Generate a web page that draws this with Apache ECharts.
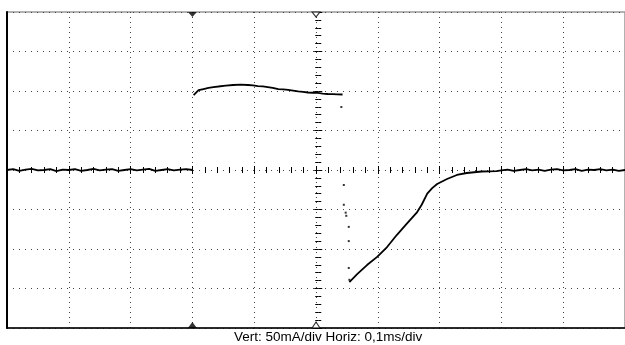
<!DOCTYPE html>
<html><head><meta charset="utf-8">
<script src="https://cdn.jsdelivr.net/npm/echarts@6/dist/echarts.min.js"></script>
<style>html,body{margin:0;padding:0;background:#fff}#c{width:625px;height:345px}</style>
</head><body><div id="c"></div>
<script>
// time in ms (0.1 ms/div), current in mA (50 mA/div)
const baseT = [0,0.01,0.02,0.03,0.04,0.05,0.06,0.07,0.08,0.09,0.10,0.11,0.12,0.13,0.14,0.15,0.16,0.17,0.18,0.19,0.20,0.21,0.22,0.23,0.24,0.25,0.26,0.27,0.28,0.29,0.30];
const baseI = [0,1,-1,0.5,1.5,-0.5,0,1,-1.5,0.5,0,1,-1,0,1.5,-0.5,0.5,1,-1,0,1,-0.5,0.5,1.5,-1,0,1,-0.5,0.5,1,0];
const pulseT = [0.302,0.310,0.318,0.326,0.334,0.342,0.354,0.366,0.378,0.390,0.398,0.406,0.414,0.422,0.430,0.439,0.447,0.455,0.463,0.471,0.479,0.487,0.495,0.503,0.511,0.519,0.527,0.535,0.543];
const pulseI = [94.9,101,102.5,104,105,105.7,106.8,107.6,108,107.6,107,106.3,105.8,105,104,102.5,102,101.3,100.5,99.4,99,98.1,97.8,97.5,96.8,96.2,96,95.8,95.6];
const edgeT = [0.541,0.545,0.545,0.548,0.549,0.553,0.553,0.553,0.554];
const edgeI = [79.7,-19,-44,-54,-58,-72,-90,-124,-139];
const recovT = [0.554,0.567,0.583,0.599,0.615,0.631,0.647,0.663,0.671,0.680,0.688,0.696,0.712,0.728,0.744,0.768,0.792,0.80,0.81,0.82,0.83,0.84,0.85,0.86,0.87,0.88,0.89,0.90,0.91,0.92,0.93,0.94,0.95,0.96,0.97,0.98,0.99,1.00];
const recovI = [-141.8,-131.6,-120,-110,-97.5,-82,-68,-54,-44,-30,-23,-17.7,-11.4,-6.3,-3.8,-1.9,-1.3,-0.5,0.5,-1,0,1,-0.5,0.5,-1,0.5,1,-0.5,0,1,-1,0.5,0,1,-0.5,0.5,-1,0];
const triggerT = 0.3, centerT = 0.5;
const yTicks = [-200,-150,-100,-50,0,50,100,150,200];
const caption = 'Vert: 50mA/div Horiz: 0,1ms/div';

const zip = (a,b) => a.map((v,i)=>[v,b[i]]);
const chart = echarts.init(document.getElementById('c'), null, {renderer:'canvas'});
const gridBox = {left:7, top:12, width:622.5, height:316};
const hideAxis = {axisLabel:{show:false}, splitLine:{show:false}};
const centerX = (inside) => Object.assign({type:'value', min:0, max:1, interval:0.1, position:'bottom', offset:-158,
  axisLine:{show:false, onZero:false}, axisTick:{show:true, inside:inside, length:4, lineStyle:{color:'#000'}},
  minorTick:{show:true, splitNumber:5, length:3, lineStyle:{color:'#000'}}}, hideAxis);
const centerY = (inside) => Object.assign({type:'value', min:yTicks[0], max:yTicks[yTicks.length-1], interval:50, position:'left', offset:-311.25,
  axisLine:{show:false, onZero:false}, axisTick:{show:true, inside:inside, length:4, lineStyle:{color:'#000'}},
  minorTick:{show:true, splitNumber:5, length:3, lineStyle:{color:'#000'}}}, hideAxis);
chart.setOption({
  animation:false,
  grid: Object.assign({show:true, borderColor:'#999', borderWidth:1.5}, gridBox),
  xAxis:[
    {type:'value', min:0, max:1, interval:0.1, position:'bottom',
     axisLine:{show:true, onZero:false, lineStyle:{color:'#000', width:1.5}}, axisTick:{show:false}, axisLabel:{show:false},
     splitLine:{show:true, lineStyle:{color:'#444', width:1, type:[1,4]}}},
    centerX(false), centerX(true)
  ],
  yAxis:[
    {type:'value', min:yTicks[0], max:yTicks[yTicks.length-1], interval:50, position:'left',
     axisLine:{show:true, onZero:false, lineStyle:{color:'#000', width:2}}, axisTick:{show:false}, axisLabel:{show:false},
     splitLine:{show:true, lineStyle:{color:'#444', width:1, type:[1,5]}}},
    centerY(false), centerY(true)
  ],
  series:[
    {type:'line', data:zip(baseT,baseI), symbol:'none', lineStyle:{color:'#000', width:1.8}},
    {type:'line', data:zip(pulseT,pulseI), symbol:'none', lineStyle:{color:'#000', width:1.8}},
    {type:'line', data:zip(recovT,recovI), symbol:'none', lineStyle:{color:'#000', width:1.8}},
    {type:'scatter', data:zip(edgeT,edgeI), symbol:'rect', symbolSize:2, itemStyle:{color:'#000'}},
    {type:'scatter', data:[[triggerT,200]], symbol:'triangle', symbolRotate:180, symbolSize:[9,5], symbolOffset:[0,2.5], itemStyle:{color:'#000'}, clip:false},
    {type:'scatter', data:[[triggerT,-200]], symbol:'triangle', symbolSize:[9,6], symbolOffset:[0,-3], itemStyle:{color:'#000'}, clip:false},
    {type:'scatter', data:[[centerT,200]], symbol:'triangle', symbolRotate:180, symbolSize:[8,5], symbolOffset:[0,2.5], itemStyle:{color:'#fff', borderColor:'#000', borderWidth:1}, clip:false},
    {type:'scatter', data:[[centerT,-200]], symbol:'triangle', symbolSize:[8,6], symbolOffset:[0,-3], itemStyle:{color:'#fff', borderColor:'#000', borderWidth:1}, clip:false}
  ],
  graphic:[{type:'text', left:234, top:330, style:{text:caption, font:'13.5px "Liberation Sans", Arial, sans-serif', fill:'#000'}}]
});
</script></body></html>
